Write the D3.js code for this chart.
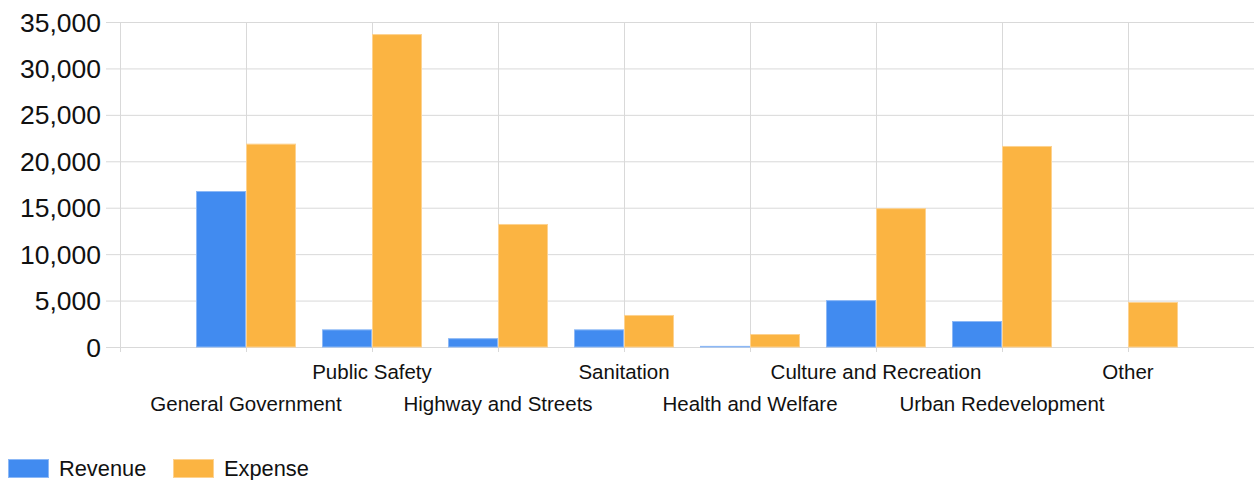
<!DOCTYPE html>
<html><head><meta charset="utf-8">
<script src="https://cdn.jsdelivr.net/npm/d3@7"></script>
<style>body{margin:0;background:#fff}text{font-family:"Liberation Sans",Arial,sans-serif;fill:#111}</style>
</head><body>
<svg id="c" width="1254" height="480"></svg>
<script>
const categories = ["General Government","Public Safety","Highway and Streets","Sanitation","Health and Welfare","Culture and Recreation","Urban Redevelopment","Other"];
const revenue = [16800, 1900, 950, 1900, 120, 5050, 2800, 0];
const expense = [21900, 33700, 13250, 3450, 1400, 14950, 21650, 4850];
const seriesNames = ["Revenue","Expense"];
const colors = ["#418bf0","#fbb442"];
const strokes = ["#8cb8f6","#fdd290"];
const yTicks = [0,5000,10000,15000,20000,25000,30000,35000];

const svg = d3.select("#c");
const L = 120, R = 1254, T = 22, B = 347;
const x = d3.scalePoint().domain(categories).range([L, R]).padding(1);
const y = d3.scaleLinear().domain([0, 35000]).range([B, T]);
const barW = 50;

svg.append("g").selectAll("line").data(yTicks).join("line")
  .attr("x1", L - 14).attr("x2", R).attr("y1", d => y(d)+0.5).attr("y2", d => y(d)+0.5)
  .attr("stroke", "#d9d9d9").attr("stroke-width", 1);
svg.append("g").selectAll("line").data([null].concat(categories)).join("line")
  .attr("x1", d => (d===null ? L : x(d)) + 0.5).attr("x2", d => (d===null ? L : x(d)) + 0.5)
  .attr("y1", T).attr("y2", B + 5)
  .attr("stroke", "#d9d9d9").attr("stroke-width", 1);

svg.append("g").selectAll("text").data(yTicks).join("text")
  .attr("x", 101).attr("y", d => y(d)).attr("dy", "0.36em")
  .attr("text-anchor", "end").style("font-size", "26.5px")
  .text(d => d3.format(",")(d));

const series = [revenue, expense];
series.forEach((vals, si) => {
  svg.append("g").selectAll("rect").data(categories).join("rect")
    .attr("x", d => x(d) - barW + si*barW + 0.5)
    .attr("width", barW - 1)
    .attr("y", (d,i) => y(vals[i]) + 0.5)
    .attr("height", (d,i) => Math.max(0, y(0) - y(vals[i]) - 0.5))
    .attr("fill", colors[si])
    .attr("stroke", strokes[si]).attr("stroke-width", 1)
    .style("display", (d,i) => vals[i] > 0 ? null : "none");
});

svg.append("g").selectAll("text").data(categories).join("text")
  .attr("x", d => x(d))
  .attr("y", (d,i) => i % 2 === 1 ? 379 : 411)
  .attr("text-anchor", "middle").style("font-size", "20.5px")
  .text(d => d);

const lx = [8, 173];
seriesNames.forEach((n, i) => {
  svg.append("rect").attr("x", lx[i]+0.5).attr("y", 459.5).attr("width", 40).attr("height", 18)
    .attr("fill", colors[i]).attr("stroke", strokes[i]);
  svg.append("text").attr("x", lx[i] + 51).attr("y", 476).style("font-size", "21.8px").text(n);
});
</script>
</body></html>
